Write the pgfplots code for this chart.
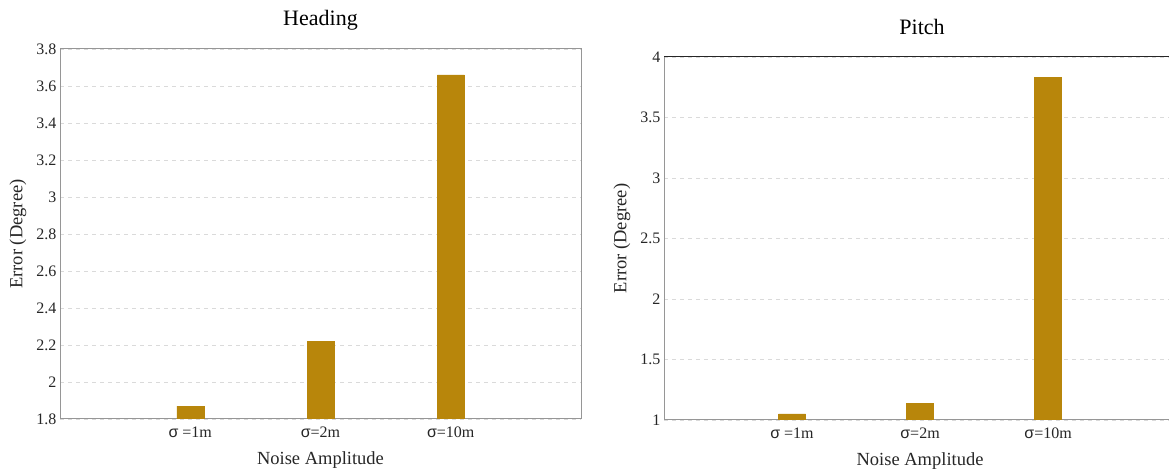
\documentclass[border=0pt]{standalone}
\usepackage{fontspec}
\setmainfont{Liberation Serif}
\newfontfamily\sig{Liberation Sans}
\usepackage{pgfplots}
\pgfplotsset{compat=1.18}
\definecolor{barc}{RGB}{184,134,11}
\definecolor{axc}{RGB}{150,150,150}
\definecolor{grc}{RGB}{218,218,218}
\pgfplotsset{mystyle/.style={
  scale only axis,
  ybar, bar width=27pt,
  xmin=0,
  xtick={1,2,3},
  xticklabels={{\sig σ} =1m,{\sig σ}=2m,{\sig σ}=10m},
  major tick length=0pt,
  axis line style={axc, line width=1pt},
  ymajorgrids, grid style={grc, dash pattern=on 4pt off 4pt, line width=0.8pt},
  tick label style={font=\fontsize{16}{18}\selectfont, text=black!85},
  /pgf/number format/assume math mode=true,
  xticklabel style={anchor=center, yshift=-13pt},
  every axis title shift=0pt,
  title style={font=\fontsize{22}{24}\selectfont, anchor=center},
  label style={font=\fontsize{18.5}{21}\selectfont, text=black!85},
  xlabel={Noise Amplitude},
  ylabel={Error (Degree)},
  xlabel style={anchor=center},
  ylabel style={anchor=center},
}}
\begin{document}
\begin{tikzpicture}
\path[use as bounding box] (0,0) rectangle (1169pt,473pt);
\begin{axis}[mystyle,
  at={(60pt,54pt)}, anchor=south west,
  width=521pt, height=370pt,
  xmax=4,
  ymin=1.8, ymax=3.8, ytick={1.8,2,...,3.8},
  yticklabels={1.8,2,2.2,2.4,2.6,2.8,3,3.2,3.4,3.6,3.8},
  title={Heading},
  title style={at={([yshift=29pt]axis description cs:0.5,1)}},
  xlabel style={at={([yshift=-41pt]axis description cs:0.5,0)}},
  ylabel style={at={([xshift=-42pt]axis description cs:0,0.5)}},
]
\addplot[fill=barc, draw=barc] coordinates {(1,1.87) (2,2.22) (3,3.66)};
\end{axis}
\begin{axis}[mystyle,
  at={(664pt,53pt)}, anchor=south west,
  width=505pt, height=363pt,
  xmax=3.945,
  axis y line*=left,
  ymin=1, ymax=4, ytick={1,1.5,...,4},
  yticklabels={1,1.5,2,2.5,3,3.5,4},
  title={Pitch},
  title style={at={([yshift=30pt]axis description cs:0.511,1)}},
  xlabel style={at={([yshift=-41pt]axis description cs:0.507,0)}},
  ylabel style={at={([xshift=-42pt]axis description cs:0,0.5)}},
]
\addplot[fill=barc, draw=barc] coordinates {(1,1.05) (2,1.14) (3,3.83)};
\draw[black!85, line width=1pt] (rel axis cs:0,1) -- (rel axis cs:1,1);
\end{axis}
\end{tikzpicture}
\end{document}
